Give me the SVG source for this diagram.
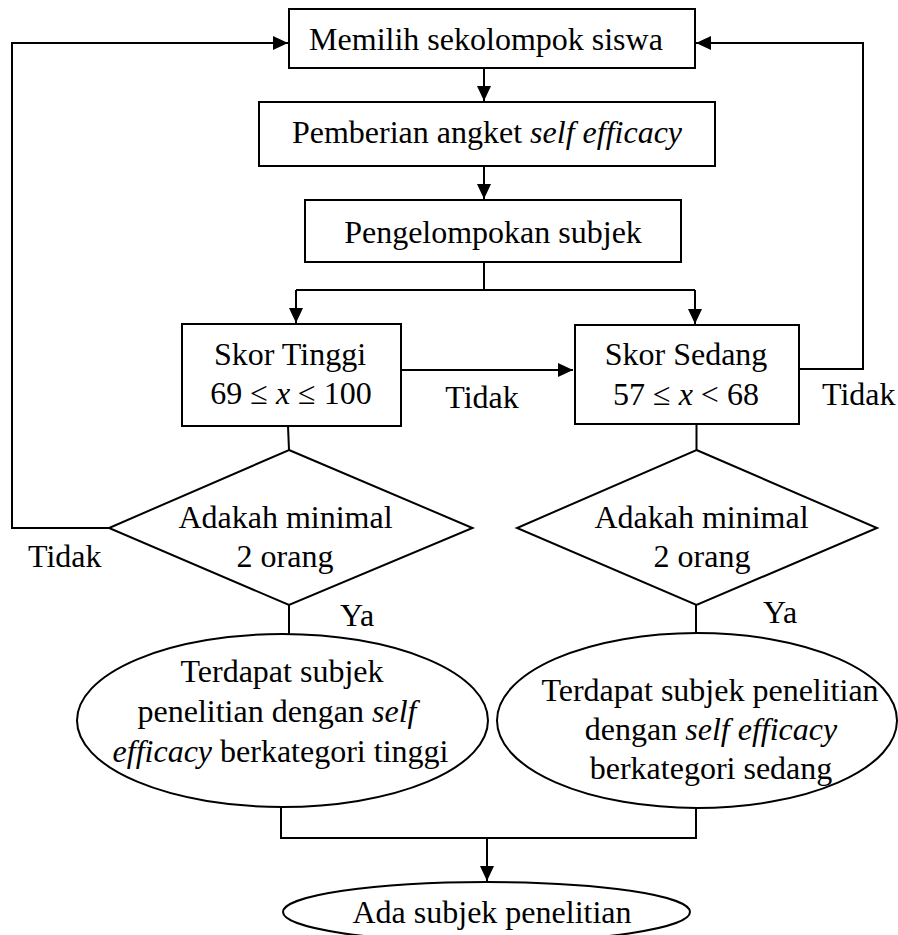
<svg xmlns="http://www.w3.org/2000/svg" width="898" height="935" viewBox="0 0 898 935">
<style>
text{font-family:"Liberation Serif","Times New Roman",serif;font-size:32px;fill:#000}
.c{text-anchor:middle}
.i{font-style:italic}
.s{fill:#fff;stroke:#000;stroke-width:2}
.l{fill:none;stroke:#000;stroke-width:2}
</style>
<defs>
<marker id="ah" markerUnits="userSpaceOnUse" markerWidth="16" markerHeight="16" viewBox="0 0 16 16" refX="15" refY="8" orient="auto">
<path d="M0,1 L15,8 L0,15 Z" fill="#000"/>
</marker>
</defs>
<rect width="898" height="935" fill="#fff"/>
<g id="connectors">
<path class="l" d="M109,528 H12 V43 H288" marker-end="url(#ah)"/>
<path class="l" d="M799,369 H863 V43 H696" marker-end="url(#ah)"/>
<path class="l" d="M484,68 V101" marker-end="url(#ah)"/>
<path class="l" d="M484,166 V199" marker-end="url(#ah)"/>
<path class="l" d="M484,262 V290"/>
<path class="l" d="M296,290 H695"/>
<path class="l" d="M296,290 V323" marker-end="url(#ah)"/>
<path class="l" d="M695,290 V324" marker-end="url(#ah)"/>
<path class="l" d="M401,370 H573" marker-end="url(#ah)"/>
<path class="l" d="M288,426 L289,450"/>
<path class="l" d="M696.5,424 V450"/>
<path class="l" d="M289,605 V634"/>
<path class="l" d="M696,605 V633"/>
<path class="l" d="M281,807 V838 H696 V808"/>
<path class="l" d="M487,838 V881" marker-end="url(#ah)"/>
</g>
<g id="n1">
<rect class="s" x="289" y="9" width="406" height="59"/>
<text class="c" x="486" y="50">Memilih sekolompok siswa</text>
</g>
<g id="n2">
<rect class="s" x="259" y="102" width="456" height="64"/>
<text class="c" x="487" y="143">Pemberian angket <tspan class="i">self efficacy</tspan></text>
</g>
<g id="n3">
<rect class="s" x="305" y="200" width="376" height="62"/>
<text class="c" x="493" y="243">Pengelompokan subjek</text>
</g>
<g id="n4">
<rect class="s" x="182" y="324" width="219" height="102"/>
<text class="c" x="290" y="365">Skor Tinggi</text>
<text class="c" x="291" y="404">69 ≤ <tspan class="i">x</tspan> ≤ 100</text>
</g>
<g id="n5">
<rect class="s" x="575" y="325" width="224" height="99"/>
<text class="c" x="686" y="365">Skor Sedang</text>
<text class="c" x="686" y="405">57 ≤ <tspan class="i">x</tspan> &lt; 68</text>
</g>
<g id="n6">
<polygon class="s" points="289,450 472.5,528 289,605 109,528"/>
<text class="c" x="285.5" y="528">Adakah minimal</text>
<text class="c" x="285" y="567">2 orang</text>
</g>
<g id="n7">
<polygon class="s" points="696.5,450 877,528 696.5,605 517,528"/>
<text class="c" x="701.5" y="528">Adakah minimal</text>
<text class="c" x="702" y="567">2 orang</text>
</g>
<g id="n8">
<ellipse class="s" cx="282.5" cy="720.5" rx="205.5" ry="86.5"/>
<text class="c" x="282" y="682">Terdapat subjek</text>
<text class="c" x="277" y="722">penelitian dengan <tspan class="i">self</tspan></text>
<text class="c" x="280.5" y="762"><tspan class="i">efficacy</tspan> berkategori tinggi</text>
</g>
<g id="n9">
<ellipse class="s" cx="697" cy="720.5" rx="200" ry="87.5"/>
<text class="c" x="710" y="701">Terdapat subjek penelitian</text>
<text class="c" x="711" y="740">dengan <tspan class="i">self efficacy</tspan></text>
<text class="c" x="711" y="779">berkategori sedang</text>
</g>
<g id="n10">
<ellipse class="s" cx="486.5" cy="912" rx="203.5" ry="30"/>
<text class="c" x="492" y="923">Ada subjek penelitian</text>
</g>
<g id="labels">
<text class="c" x="482" y="408">Tidak</text>
<text x="822" y="405">Tidak</text>
<text x="28" y="567">Tidak</text>
<text x="340" y="626">Ya</text>
<text x="763" y="623">Ya</text>
</g>
</svg>
